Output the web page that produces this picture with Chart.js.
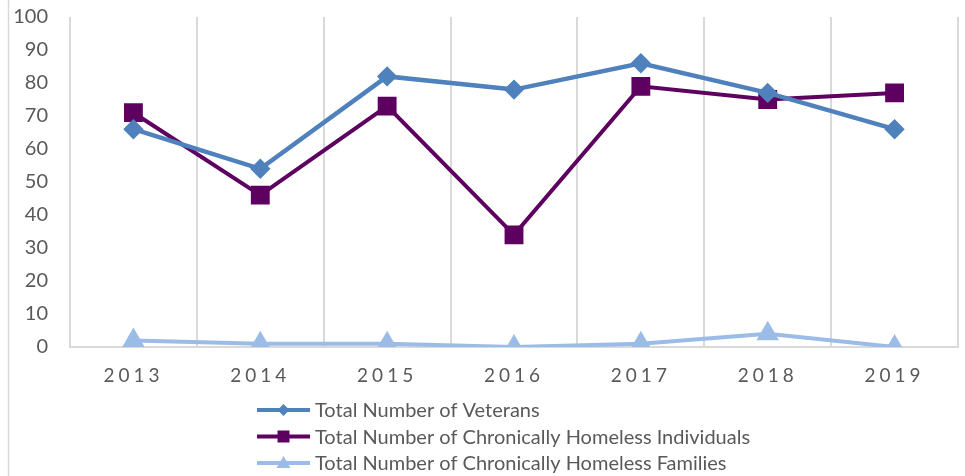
<!DOCTYPE html>
<html>
<head>
<meta charset="utf-8">
<script src="https://cdn.jsdelivr.net/npm/chart.js@4.4.1/dist/chart.umd.min.js"></script>
<style>
  html, body { margin: 0; padding: 0; background: #fff; }
  #wrap { width: 965px; height: 476px; position: relative; }
</style>
</head>
<body>
<div id="wrap"><canvas id="homelessChart"></canvas></div>
<script>
const years = ['2013', '2014', '2015', '2016', '2017', '2018', '2019'];
const veterans = [66, 54, 82, 78, 86, 77, 66];
const chronicIndividuals = [71, 46, 73, 34, 79, 75, 77];
const chronicFamilies = [2, 1, 1, 0, 1, 4, 0];

const textColor = '#595959';
const gridColor = '#d9d9d9';

// draws the small marker used in the legend sample
function drawMarker(ctx, style, x, y, color) {
    ctx.fillStyle = color;
    ctx.beginPath();
    if (style === 'rectRot') {
        ctx.moveTo(x, y - 6); ctx.lineTo(x + 6, y); ctx.lineTo(x, y + 6); ctx.lineTo(x - 6, y);
    } else if (style === 'rect') {
        ctx.rect(x - 6, y - 6, 12, 12);
    } else {
        ctx.moveTo(x, y - 7); ctx.lineTo(x + 7, y + 5); ctx.lineTo(x - 7, y + 5);
    }
    ctx.closePath();
    ctx.fill();
}

const legendPlugin = {
    id: 'stackedLegend',
    beforeDraw(chart) {
        const ctx = chart.ctx;
        // outer frame line on the left
        ctx.save();
        ctx.strokeStyle = gridColor;
        ctx.lineWidth = 1.5;
        ctx.beginPath();
        ctx.moveTo(8.5, 0);
        ctx.lineTo(8.5, 476);
        ctx.stroke();
        ctx.restore();

        // letter-spaced year labels
        const xs = chart.scales.x;
        if (!xs._spaced) {
            const orig = xs.drawLabels;
            xs.drawLabels = function (area) {
                this.ctx.save();
                this.ctx.letterSpacing = '4px';
                orig.call(this, area);
                this.ctx.restore();
            };
            xs._spaced = true;
        }
    },
    afterDraw(chart) {
        const ctx = chart.ctx;
        ctx.save();
        chart.data.datasets.forEach((ds, i) => {
            const y = 410 + i * 26.5;
            ctx.strokeStyle = ds.borderColor;
            ctx.lineWidth = 4;
            ctx.beginPath();
            ctx.moveTo(257, y);
            ctx.lineTo(310, y);
            ctx.stroke();
            drawMarker(ctx, ds.pointStyle, 283.5, y, ds.borderColor);
            ctx.fillStyle = textColor;
            ctx.font = '20px Lato';
            ctx.textBaseline = 'middle';
            ctx.fillText(ds.label, 315, y + 1);
        });
        ctx.restore();
    }
};

new Chart(document.getElementById('homelessChart'), {
    type: 'line',
    data: {
        labels: years,
        datasets: [
            {
                label: 'Total Number of Veterans',
                data: veterans,
                borderColor: '#4F81BD',
                backgroundColor: '#4F81BD',
                borderWidth: 4.5,
                pointStyle: 'rectRot',
                pointRadius: 7,
                tension: 0
            },
            {
                label: 'Total Number of Chronically Homeless Individuals',
                data: chronicIndividuals,
                borderColor: '#5E0060',
                backgroundColor: '#5E0060',
                borderWidth: 4,
                pointStyle: 'rect',
                pointRadius: 10.5,
                tension: 0
            },
            {
                label: 'Total Number of Chronically Homeless Families',
                data: chronicFamilies,
                borderColor: '#9BBCE6',
                backgroundColor: '#9BBCE6',
                borderWidth: 4,
                pointStyle: 'triangle',
                pointRadius: 9,
                tension: 0
            }
        ]
    },
    options: {
        responsive: true,
        maintainAspectRatio: false,
        animation: false,
        layout: { autoPadding: false, padding: { top: 17, right: 7, left: 0, bottom: 0 } },
        plugins: {
            legend: { display: false },
            tooltip: { enabled: false }
        },
        scales: {
            x: {
                offset: true,
                afterFit: s => { s.height = 129; },
                grid: {
                    offset: true,
                    color: gridColor,
                    lineWidth: 2,
                    drawTicks: false
                },
                border: { color: gridColor, width: 2 },
                ticks: {
                    color: textColor,
                    padding: 17,
                    font: { family: 'Lato', size: 19 }
                }
            },
            y: {
                min: 0,
                max: 100,
                afterFit: s => {
                    s.width = 70;
                    s.paddingTop = 10;
                    s.paddingBottom = 10;
                },
                grid: { display: false, drawTicks: false },
                border: { display: false },
                ticks: {
                    stepSize: 10,
                    color: textColor,
                    padding: 22,
                    font: { family: 'Lato', size: 20 }
                }
            }
        }
    },
    plugins: [legendPlugin]
});
</script>
</body>
</html>
